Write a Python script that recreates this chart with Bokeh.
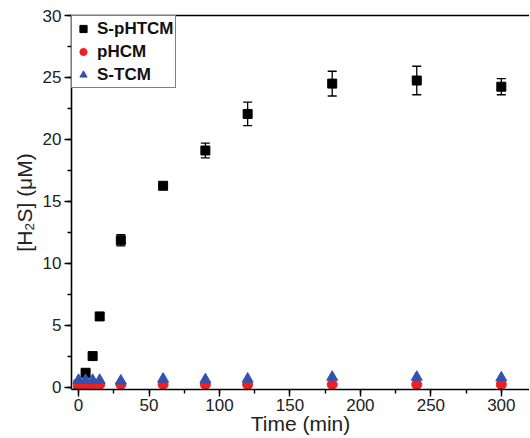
from bokeh.plotting import figure
from bokeh.models import (ColumnDataSource, Range1d, SingleIntervalTicker, LinearAxis,
                          FixedTicker, Whisker, TeeHead, Legend, LegendItem)
from bokeh.embed import file_html
from bokeh.resources import INLINE

# ---- data ----
time_min = [0, 5, 10, 15, 30, 60, 90, 120, 180, 240, 300]
s_phtcm = [0.2, 1.15, 2.5, 5.7, 11.85, 16.25, 19.1, 22.05, 24.5, 24.75, 24.25]
s_phtcm_err = [0.3, 0.15, 0.2, 0.3, 0.45, 0.2, 0.6, 0.95, 1.0, 1.15, 0.65]
phcm = [0.2, 0.2, 0.2, 0.2, 0.2, 0.2, 0.2, 0.2, 0.2, 0.2, 0.2]
s_tcm = [0.55, 0.55, 0.55, 0.55, 0.5, 0.65, 0.6, 0.65, 0.8, 0.8, 0.75]

FONT = "Liberation Sans"
RED = "#ee2024"
BLUE = "#3253ad"

p = figure(width=529, height=437, output_backend="svg", toolbar_location=None,
           x_range=Range1d(-5, 320), y_range=Range1d(-0.2, 30),
           min_border_left=71, min_border_right=0, min_border_top=15, min_border_bottom=48)
p.outline_line_color = None
p.grid.visible = False
p.background_fill_color = "white"
p.border_fill_color = "white"

lower = [v - e for v, e in zip(s_phtcm, s_phtcm_err)]
upper = [v + e for v, e in zip(s_phtcm, s_phtcm_err)]
src_a = ColumnDataSource(dict(x=time_min, y=s_phtcm, lo=lower, hi=upper))
src_b = ColumnDataSource(dict(x=time_min, y=phcm))
src_c = ColumnDataSource(dict(x=time_min, y=s_tcm))

r_a = p.scatter("x", "y", source=src_a, marker="square", size=9, color="black")
r_b = p.scatter("x", "y", source=src_b, marker="circle", size=10, color=RED)
r_c = p.scatter("x", "y", source=src_c, marker="triangle", size=11, color=BLUE)

wh = Whisker(source=src_a, base="x", lower="lo", upper="hi", line_color="black", line_width=1.3,
             upper_head=TeeHead(size=9, line_color="black", line_width=1.3),
             lower_head=TeeHead(size=9, line_color="black", line_width=1.3))
p.add_layout(wh)

# axes
for ax in (p.xaxis[0], p.yaxis[0]):
    ax.axis_line_width = 1.6
    ax.axis_line_color = "black"
    ax.major_tick_line_width = 1.4
    ax.minor_tick_line_width = 1.4
    ax.major_tick_out = 7
    ax.major_tick_in = 0
    ax.minor_tick_out = 4
    ax.minor_tick_in = 0
    ax.major_label_text_font = FONT
    ax.major_label_text_font_size = "17px"
    ax.major_label_text_color = "#222222"
    ax.axis_label_text_font = FONT
    ax.axis_label_text_font_size = "21px"
    ax.axis_label_text_font_style = "normal"
    ax.axis_label_text_color = "#222222"
    ax.major_label_standoff = 3

p.xaxis[0].ticker = SingleIntervalTicker(interval=50, num_minor_ticks=2)
p.yaxis[0].ticker = SingleIntervalTicker(interval=5, num_minor_ticks=2)
p.xaxis[0].axis_label = "Time (min)"
p.yaxis[0].axis_label = "[H\u2082S] (\u03bcM)"
p.xaxis[0].major_label_standoff = 2
p.xaxis[0].axis_label_standoff = -2
p.yaxis[0].axis_label_standoff = 4

top = LinearAxis(ticker=FixedTicker(ticks=[]), axis_line_width=1.6, axis_line_color="black",
                 major_label_text_font_size="0px", major_tick_line_color=None,
                 minor_tick_line_color=None)
p.add_layout(top, "above")

legend = Legend(items=[LegendItem(label="S-pHTCM", renderers=[r_a]),
                       LegendItem(label="pHCM", renderers=[r_b]),
                       LegendItem(label="S-TCM", renderers=[r_c])],
                location="top_left", margin=0, padding=2, spacing=2,
                glyph_width=18, glyph_height=21, label_height=21, label_standoff=5,
                label_text_font=FONT, label_text_font_size="17px",
                label_text_font_style="bold", label_text_color="#111111",
                border_line_color="black", border_line_width=1.3,
                background_fill_color="white", background_fill_alpha=1.0)
p.add_layout(legend, "center")

open("out.html", "w").write(file_html(p, INLINE))
